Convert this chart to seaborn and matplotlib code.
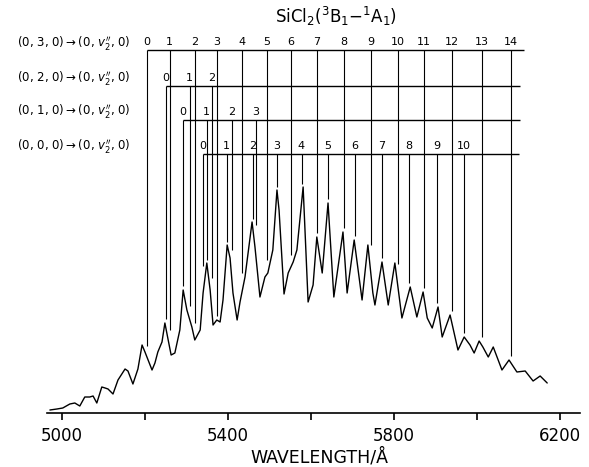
import numpy as np
import pandas as pd
import matplotlib
matplotlib.use("Agg")
import matplotlib.pyplot as plt
import seaborn as sns

# emission trace (wavelength / A, intensity / arb. units)
wavelength = [4971, 4988, 5002, 5019, 5031, 5043, 5055, 5067, 5075, 5084,
              5096, 5104, 5111, 5123, 5135, 5152, 5159, 5171, 5183, 5193,
              5200, 5217, 5224, 5231, 5241, 5248, 5255, 5263, 5272, 5284,
              5292, 5301, 5313, 5320, 5333, 5340, 5349, 5357, 5364, 5373,
              5381, 5388, 5398, 5405, 5412, 5422, 5429, 5441, 5458, 5465,
              5477, 5489, 5496, 5508, 5518, 5523, 5535, 5545, 5557, 5566,
              5581, 5593, 5605, 5614, 5627, 5641, 5655, 5677, 5687, 5704,
              5723, 5737, 5749, 5754, 5771, 5786, 5802, 5819, 5839, 5855,
              5870, 5880, 5892, 5906, 5916, 5935, 5954, 5969, 5983, 5993,
              6005, 6014, 6027, 6039, 6060, 6077, 6096, 6116, 6135, 6152,
              6169]
intensity = [3, 4, 5, 9, 10, 7, 16, 16, 17, 10,
             26, 25, 24, 19, 33, 44, 42, 29, 44, 68,
             61, 43, 50, 61, 71, 90, 75, 58, 60, 83,
             123, 103, 86, 73, 83, 120, 150, 123, 88, 93,
             91, 113, 168, 155, 120, 93, 111, 136, 191, 166,
             116, 136, 140, 163, 223, 203, 119, 140, 151, 163,
             226, 111, 128, 176, 140, 210, 116, 181, 120, 173,
             113, 168, 120, 108, 151, 108, 150, 95, 126, 96,
             121, 95, 85, 106, 76, 98, 63, 76, 68, 60,
             72, 66, 56, 66, 43, 53, 41, 42, 32, 37,
             30]

# band assignments, (0,v2',0) -> (0,v2'',0)
prog_030 = [5205, 5260, 5320, 5373, 5434, 5494, 5552, 5614, 5680, 5745,
            5810, 5872, 5940, 6012, 6082]
prog_020 = [5251, 5308, 5361]
prog_010 = [5292, 5349, 5410, 5467]
prog_000 = [5340, 5398, 5460, 5518, 5578, 5641, 5706, 5771, 5836, 5904, 5969]
row_labels = ["(0, 3, 0)", "(0, 2, 0)", "(0, 1, 0)", "(0, 0, 0)"]

sns.set_style("ticks")
plt.rcParams['font.family'] = ['DejaVu Sans']
plt.rcParams['text.color'] = 'black'
plt.rcParams['xtick.color'] = 'black'
plt.rcParams['axes.labelcolor'] = 'black'

fig = plt.figure(figsize=(5.89, 4.67), dpi=100)
ax = fig.add_axes([47/589, 54/467, 533/589, 413/467])

df = pd.DataFrame({"wavelength": wavelength, "intensity": intensity})
sns.lineplot(data=df, x="wavelength", y="intensity", color="black", lw=1.0, ax=ax)

ax.set_xlim(4964, 6248)
ax.set_ylim(0, 413)

# ladders: positions, bar height, right end of bar
ladders = [(prog_030, 363, 6113), (prog_020, 327, 6104),
           (prog_010, 293, 6104), (prog_000, 259, 6101)]
grid = np.linspace(wavelength[0], wavelength[-1], 2000)
spec = np.interp(grid, wavelength, intensity)
for pos, level, right in ladders:
    ends = [spec[np.abs(grid - p) < 7].max() + 4 for p in pos]
    ax.vlines(pos, ends, level, color="black", lw=0.8)
    ax.hlines(level, pos[0], right, color="black", lw=1.0)
    for v, p in enumerate(pos):
        ax.text(p - 1, level + 8, str(v), ha="center", va="center", fontsize=8)

for i, lab in enumerate(row_labels):
    y = 1 - [43, 78, 111, 146][i] / 467
    fig.text(131/589, y, lab + r"$\rightarrow$(0, $v_2^{\prime\prime}$, 0)",
             ha="right", va="center", fontsize=8.5)

fig.text(336/589, 1 - 16/467, r"SiCl$_2$($^3$B$_1$$-$$^1$A$_1$)",
         ha="center", va="center", fontsize=12)

ax.set_xticks([5000, 5400, 5800, 6200])
ax.set_xticks([5200, 5600, 6000], minor=True)
ax.tick_params(which="both", direction="out", length=5, width=1.2,
               labelsize=12, pad=5, color="black", labelcolor="black")
ax.set_yticks([])
for s in ["left", "right", "top"]:
    ax.spines[s].set_visible(False)
ax.spines["bottom"].set_linewidth(1.2)
ax.spines["bottom"].set_color("black")
ax.set_ylabel("")
ax.set_xlabel("WAVELENGTH/Å", fontsize=12.5)
ax.xaxis.set_label_coords(0.512, -0.085)

fig.savefig("out.png", dpi=100)
